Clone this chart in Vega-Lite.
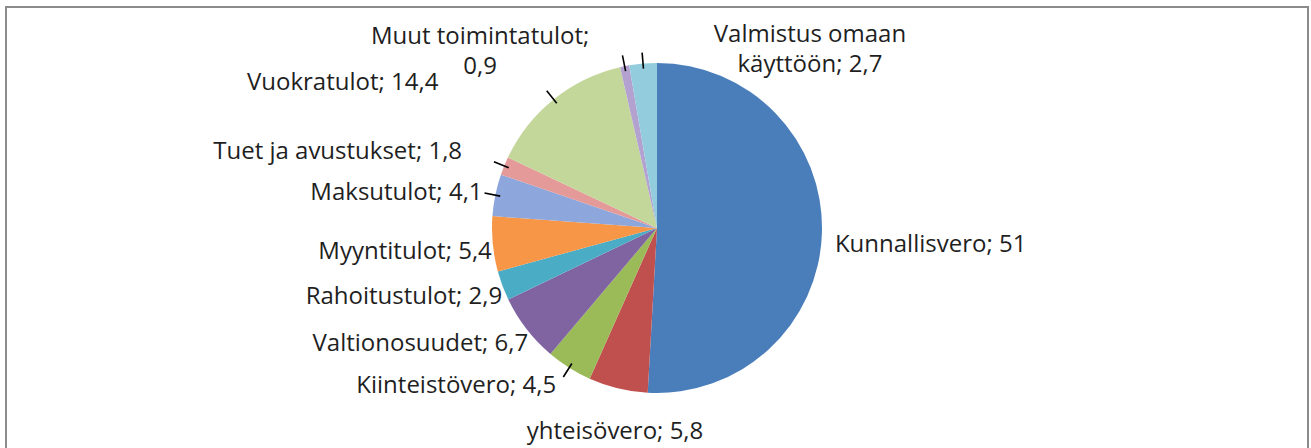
{
  "$schema": "https://vega.github.io/schema/vega-lite/v6.json",
  "width": 1302,
  "height": 442,
  "autosize": {"type": "none"},
  "padding": {"left": 6, "top": 7, "right": 3, "bottom": 0},
  "background": "white",
  "view": {"stroke": "#8c8c8c", "strokeWidth": 2},
  "config": {"style": {"view": {"stroke": "#8c8c8c", "strokeWidth": 2}}},
  "data": {
    "values": [
      {"i": 1, "name": "Kunnallisvero", "v": 51, "label": "Kunnallisvero; 51"},
      {"i": 2, "name": "yhteisövero", "v": 5.8, "label": "yhteisövero; 5,8"},
      {"i": 3, "name": "Kiinteistövero", "v": 4.5, "label": "Kiinteistövero; 4,5"},
      {"i": 4, "name": "Valtionosuudet", "v": 6.7, "label": "Valtionosuudet; 6,7"},
      {"i": 5, "name": "Rahoitustulot", "v": 2.9, "label": "Rahoitustulot; 2,9"},
      {"i": 6, "name": "Myyntitulot", "v": 5.4, "label": "Myyntitulot; 5,4"},
      {"i": 7, "name": "Maksutulot", "v": 4.1, "label": "Maksutulot; 4,1"},
      {"i": 8, "name": "Tuet ja avustukset", "v": 1.8, "label": "Tuet ja avustukset; 1,8"},
      {"i": 9, "name": "Vuokratulot", "v": 14.4, "label": "Vuokratulot; 14,4"},
      {"i": 10, "name": "Muut toimintatulot", "v": 0.9, "label": "Muut toimintatulot;\n0,9"},
      {"i": 11, "name": "Valmistus omaan käyttöön", "v": 2.7, "label": "Valmistus omaan\nkäyttöön; 2,7"}
    ]
  },
  "encoding": {
    "theta": {"field": "v", "type": "quantitative", "stack": true},
    "order": {"field": "i", "type": "quantitative"}
  },
  "layer": [
    {
      "mark": {"type": "arc", "outerRadius": 165},
      "encoding": {
        "color": {
          "field": "name",
          "type": "nominal",
          "legend": null,
          "scale": {
            "domain": ["Kunnallisvero", "yhteisövero", "Kiinteistövero", "Valtionosuudet", "Rahoitustulot", "Myyntitulot", "Maksutulot", "Tuet ja avustukset", "Vuokratulot", "Muut toimintatulot", "Valmistus omaan käyttöön"],
            "range": ["#4A7EBB", "#C0504D", "#9BBB59", "#8064A2", "#4BACC6", "#F79646", "#8DA7DC", "#E39A98", "#C4D79B", "#B3A2D0", "#93CDDD"]
          }
        }
      }
    },
    {
      "mark": {
        "type": "arc",
        "innerRadius": 160,
        "outerRadius": 176,
        "padAngle": 0.8,
        "fill": "transparent",
        "stroke": "#000000",
        "strokeWidth": 1.6,
        "strokeOpacity": {"expr": "((datum.v_start + datum.v_end) / 200.4 > 0.77 || ((datum.v_start + datum.v_end) / 200.4 > 0.57 && (datum.v_start + datum.v_end) / 200.4 < 0.61)) ? 1 : 0"}
      }
    },
    {
      "mark": {
        "type": "text",
        "radius": 178,
        "font": "Open Sans",
        "fontSize": 24,
        "color": "#1f1f1f",
        "lineBreak": "\n",
        "lineHeight": 30,
        "align": {"expr": "(datum.v_start + datum.v_end) / 200.4 < 0.45 ? 'left' : ((datum.v_start + datum.v_end) / 200.4 < 0.56 ? 'center' : ((datum.v_start + datum.v_end) / 200.4 < 0.95 ? 'right' : 'center'))"},
        "baseline": {"expr": "((datum.v_start + datum.v_end) / 200.4 > 0.45 && (datum.v_start + datum.v_end) / 200.4 < 0.56) ? 'top' : 'middle'"},
        "dx": {"expr": "(datum.v_start + datum.v_end) / 200.4 > 0.98 ? 168 : ((datum.v_start + datum.v_end) / 200.4 > 0.95 ? -142 : ((datum.v_start + datum.v_end) / 200.4 > 0.85 ? -107 : ((datum.v_start + datum.v_end) / 200.4 > 0.79 ? -30 : (((datum.v_start + datum.v_end) / 200.4 > 0.61 && (datum.v_start + datum.v_end) / 200.4 < 0.77) ? 12 : (((datum.v_start + datum.v_end) / 200.4 > 0.57 && (datum.v_start + datum.v_end) / 200.4 < 0.61) ? -6 : 0)))))"},
        "dy": {"expr": "(datum.v_start + datum.v_end) / 200.4 < 0.45 ? 12 : ((datum.v_start + datum.v_end) / 200.4 < 0.56 ? 19 : ((datum.v_start + datum.v_end) / 200.4 < 0.77 ? 7 : ((datum.v_start + datum.v_end) / 200.4 < 0.79 ? 0 : ((datum.v_start + datum.v_end) / 200.4 < 0.85 ? -9 : ((datum.v_start + datum.v_end) / 200.4 < 0.95 ? -6 : -16)))))"}
      },
      "encoding": {"text": {"field": "label"}}
    }
  ]
}
